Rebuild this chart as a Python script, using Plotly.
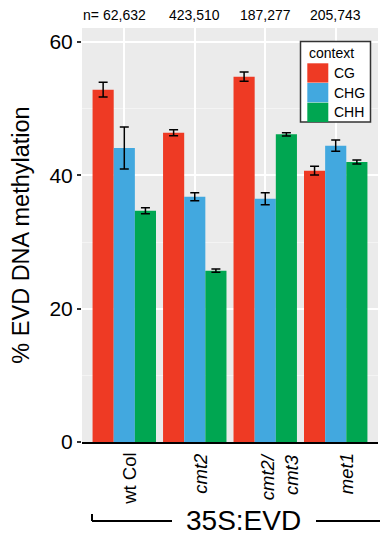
import plotly.graph_objects as go

# ---------------- data ----------------
genotypes = ["wt Col", "cmt2", "cmt2/cmt3", "met1"]
genotype_labels = ["wt Col", "<i>cmt2</i>", "<i>cmt2/<br>cmt3</i>", "<i>met1</i>"]
n_counts = ["62,632", "423,510", "187,277", "205,743"]
contexts = ["CG", "CHG", "CHH"]

cg_mean = [52.85, 46.4, 54.8, 40.7]
cg_err = [1.1, 0.45, 0.7, 0.65]
chg_mean = [44.1, 36.8, 36.5, 44.45]
chg_err = [3.15, 0.6, 0.9, 0.85]
chh_mean = [34.7, 25.7, 46.15, 42.0]
chh_err = [0.45, 0.25, 0.25, 0.3]

means = [cg_mean, chg_mean, chh_mean]
errs = [cg_err, chg_err, chh_err]
colors = ["#EE3A24", "#42A8DF", "#00A651"]

FONT = "Liberation Sans, Arial, Helvetica, sans-serif"

# The page body has an 8px margin; the figure is drawn from (8, 8).
OFF = 8
FIG_W, FIG_H = 388 - OFF, 536 - OFF
# panel in window pixels: x 82..378, y 28..442
L, T, W, H = 82, 28, 296, 414


def px(xp):
    return (xp - L) / W


def py(yp):
    return (T + H - yp) / H


fig = go.Figure()
for name, m, e, c in zip(contexts, means, errs, colors):
    fig.add_trace(go.Bar(
        x=genotypes, y=m, name=name,
        marker=dict(color=c, line=dict(width=0)),
        error_y=dict(type="data", array=e, visible=True,
                     color="black", thickness=1.5, width=4.5),
        showlegend=False,
    ))

fig.update_layout(
    width=FIG_W, height=FIG_H,
    margin=dict(l=L - OFF, r=FIG_W - (L - OFF) - W, t=T - OFF,
                b=FIG_H - (T - OFF) - H, autoexpand=False),
    paper_bgcolor="white",
    plot_bgcolor="#EBEBEB",
    barmode="group", bargap=0.1, bargroupgap=0,
    font=dict(family=FONT, color="black"),
    xaxis=dict(
        type="category", categoryorder="array", categoryarray=genotypes,
        range=[-0.6, 3.6], showgrid=True, gridcolor="white", gridwidth=2,
        showticklabels=False, ticks="", showline=True, linecolor="black",
        linewidth=2, zeroline=False, automargin=False,
    ),
    yaxis=dict(
        range=[0, 62.1], tickvals=[0, 20, 40, 60], showgrid=True,
        gridcolor="white", gridwidth=2, zeroline=False, showline=False,
        ticks="outside", ticklen=4, tickwidth=1.5, tickcolor="#333333",
        tickfont=dict(size=21, color="black", family=FONT),
        minor=dict(tickvals=[10, 30, 50], showgrid=True,
                   gridcolor="#F4F4F4", gridwidth=1, ticks=""),
        title=dict(text="% EVD DNA methylation",
                   font=dict(size=23.5, family=FONT, color="black"),
                   standoff=13),
        automargin=False,
    ),
)

ann = []
# x tick labels (rotated)
xshifts = [4.5, 5.5, 14.5, 11]
for g, lab, xs in zip(genotypes, genotype_labels, xshifts):
    ann.append(dict(x=g, xref="x", y=0, yref="paper", text=lab,
                    textangle=-90, xanchor="center", yanchor="top",
                    yshift=-9, xshift=xs, align="right", showarrow=False,
                    font=dict(size=18.5, family=FONT, color="black")))
# n counts
for g, n in zip(genotypes, n_counts):
    ann.append(dict(x=g, xref="x", y=py(15), yref="paper", text=n,
                    xanchor="center", yanchor="middle", showarrow=False,
                    font=dict(size=14, family=FONT, color="black")))
ann.append(dict(x=px(100.5), xref="paper", y=py(15), yref="paper", text="n=",
                xanchor="right", yanchor="middle", showarrow=False,
                font=dict(size=14, family=FONT, color="black")))
# 35S:EVD
ann.append(dict(x=px(243.5), xref="paper", y=py(520), yref="paper",
                text="35S:EVD", xanchor="center", yanchor="middle",
                showarrow=False, font=dict(size=28, family=FONT, color="black")))

shapes = []
shapes.append(dict(type="line", xref="paper", yref="paper", x0=px(92), x1=px(172),
                   y0=py(521), y1=py(521), line=dict(color="black", width=2)))
shapes.append(dict(type="line", xref="paper", yref="paper", x0=px(92), x1=px(92),
                   y0=py(521), y1=py(514), line=dict(color="black", width=2)))
shapes.append(dict(type="line", xref="paper", yref="paper", x0=px(316), x1=px(392),
                   y0=py(521), y1=py(521), line=dict(color="black", width=2)))

# legend (custom)
shapes.append(dict(type="rect", xref="paper", yref="paper",
                   x0=px(300.5), x1=px(370.5), y0=py(41.5), y1=py(122),
                   fillcolor="white", line=dict(color="#333333", width=1.5),
                   layer="above"))
ann.append(dict(x=px(307), xref="paper", y=py(53), yref="paper", text="context",
                xanchor="left", yanchor="middle", showarrow=False,
                font=dict(size=14, family=FONT, color="black")))
key_tops = [63.3, 83.0, 102.7]
for name, c, top in zip(contexts, colors, key_tops):
    shapes.append(dict(type="rect", xref="paper", yref="paper",
                       x0=px(307.3), x1=px(328.3), y0=py(top), y1=py(top + 19.3),
                       fillcolor=c, line=dict(width=0), layer="above"))
    ann.append(dict(x=px(331.5), xref="paper", y=py(top + 9.7), yref="paper",
                    text=name, xanchor="left", yanchor="middle", showarrow=False,
                    font=dict(size=14, family=FONT, color="black")))

fig.update_layout(annotations=ann, shapes=shapes)
fig.write_html("out.html")
